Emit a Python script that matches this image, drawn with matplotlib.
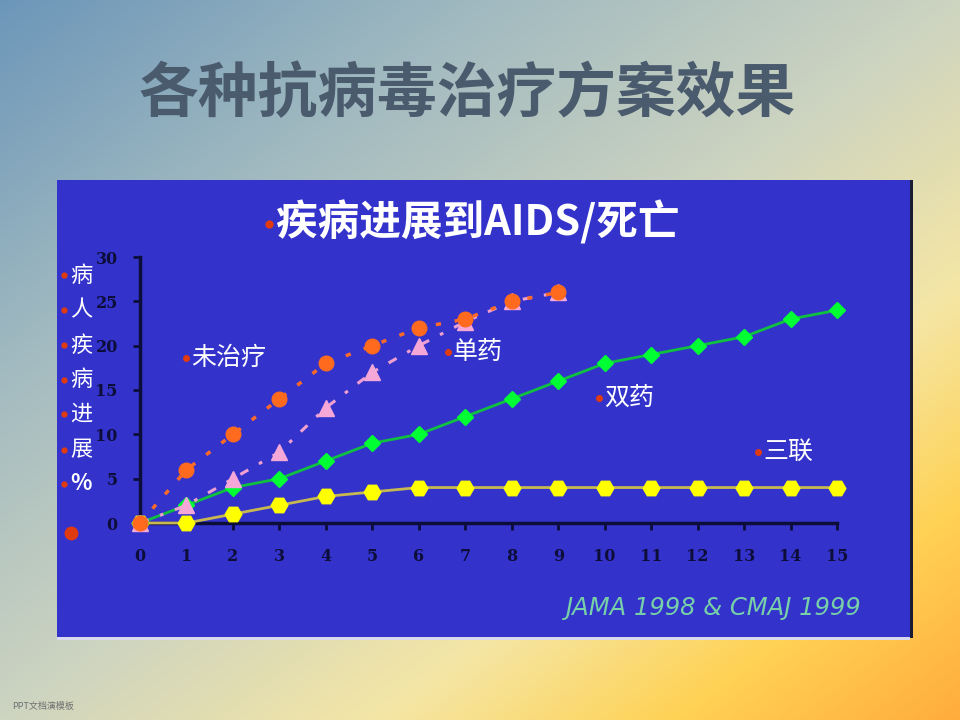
import numpy as np
import matplotlib
matplotlib.use("Agg")
import matplotlib.pyplot as plt
from matplotlib.patches import Rectangle

plt.rcParams['font.family'] = ['Noto Sans CJK SC', 'DejaVu Sans']

# ---- data ----
years = list(range(16))
untreated = [0, 6, 10, 14, 18, 20, 22, 23, 25, 26]
mono = [0, 2, 5, 8, 13, 17, 20, 22.7, 25, 26]
dual = [0, 2, 4, 5, 7, 9, 10, 12, 14, 16, 18, 19, 20, 21, 23, 24]
triple = [0, 0, 1, 2, 3, 3.5, 4, 4, 4, 4, 4, 4, 4, 4, 4, 4]
xticks = list(range(16))
yticks = [0, 5, 10, 15, 20, 25, 30]
ylabel_chars = ['病', '人', '疾', '病', '进', '展', '%']
series_labels = ['未治疗', '单药', '双药', '三联']

W, H = 960, 720
fig = plt.figure(figsize=(9.6, 7.2), dpi=100)

# ---- background gradient ----
bg = fig.add_axes([0, 0, 1, 1], zorder=-10)
gx, gy = np.meshgrid(np.linspace(0, 1, 480), np.linspace(0, 1, 360))
t = (gx + gy) / 2.0
stops = [0.0, 0.25, 0.5, 0.7, 0.85, 1.0]
cols = np.array([(108, 150, 185), (160, 185, 192), (205, 212, 192),
                 (245, 230, 165), (255, 210, 85), (255, 172, 60)]) / 255.0
img = np.dstack([np.interp(t, stops, cols[:, k]) for k in range(3)])
bg.imshow(img, aspect='auto', extent=[0, 1, 0, 1], origin='upper')
bg.set_xlim(0, 1); bg.set_ylim(0, 1)
bg.axis('off')

def fx(px):
    return px / W

def fy(py):
    return 1 - py / H

# ---- blue panel ----
panel_color = '#3333cc'
fig.patches.append(Rectangle((fx(910), fy(638)), 3 / W, (638 - 180) / H,
                             transform=fig.transFigure, facecolor='#1a1a33',
                             edgecolor='none', zorder=-5))
fig.patches.append(Rectangle((fx(57), fy(640)), (910 - 57) / W, 3 / H,
                             transform=fig.transFigure, facecolor='#d8d8f0',
                             edgecolor='none', zorder=-5))
fig.patches.append(Rectangle((fx(57), fy(637)), (910 - 57) / W, (637 - 180) / H,
                             transform=fig.transFigure, facecolor=panel_color,
                             edgecolor='none', zorder=-4))

# overlay axes for bullet dots
ov = fig.add_axes([0, 0, 1, 1], zorder=20)
ov.set_xlim(0, W); ov.set_ylim(H, 0)
ov.axis('off')
ov.patch.set_alpha(0)
bullet_red = '#e03a10'

def bullet(px, py, size=5):
    ov.plot([px], [py], 'o', ms=size, mfc=bullet_red, mec='none')

# ---- titles ----
fig.text(fx(467), fy(95), '各种抗病毒治疗方案效果', ha='center', va='center',
         fontsize=43, color='#4b5b6e', fontweight='bold')
bullet(269, 224, 6)
fig.text(fx(276), fy(222), '疾病进展到AIDS/死亡', ha='left', va='center',
         fontsize=30, color='white', fontweight='bold')

# ---- main axes ----
ax = fig.add_axes([fx(140), fy(523), (837 - 140) / W, (523 - 257) / H])
ax.patch.set_alpha(0)
ax.set_xlim(0, 15)
ax.set_ylim(0, 30)
for s in ['top', 'right']:
    ax.spines[s].set_visible(False)
for s in ['left', 'bottom']:
    ax.spines[s].set_color('#0d0d3a')
    ax.spines[s].set_linewidth(2.5)
ax.set_xticks(xticks)
ax.set_yticks(yticks)
ax.tick_params(axis='both', colors='#0d0d3a', length=5, width=2,
               labelsize=11.5)
ax.tick_params(axis='x', pad=13)
ax.tick_params(axis='y', pad=11)
for lab in ax.get_xticklabels() + ax.get_yticklabels():
    lab.set_fontfamily('DejaVu Serif')
    lab.set_fontweight('bold')
    lab.set_color('#0d0d3a')

ax.plot(years[:len(triple)], triple, color='#c8b850', lw=2, marker='H',
        ms=12, mfc='#ffff00', mec='#ffff00', clip_on=False, zorder=3)
ax.plot(years[:len(dual)], dual, color='#10c040', lw=2, marker='D',
        ms=8, mfc='#00ff33', mec='#00ff33', clip_on=False, zorder=4)
ax.plot(years[:len(mono)], mono, color='#f0a0d0', lw=2.2, ls=(0, (3, 4, 1.2, 4)),
        marker='^', ms=11, mfc='#f5a8d8', mec='#f5a8d8', clip_on=False, zorder=5)
ax.plot(years[:len(untreated)], untreated, color='#ff6a28', lw=2.5, ls=(0, (1.5, 4)),
        marker='o', ms=10.5, mfc='#ff6a1e', mec='#ff6a1e', clip_on=False, zorder=6)

# ---- series labels ----
label_pos = [(186, 358), (448, 352), (599, 398), (758, 452)]
for lab, (px, py) in zip(series_labels, label_pos):
    bullet(px, py, 5)
    fig.text(fx(px + 5), fy(py), lab, ha='left', va='center', fontsize=18,
             color='white')

# ---- vertical y label ----
ylab_y = [275, 310, 345, 380, 414, 450, 484]
for ch, py in zip(ylabel_chars, ylab_y):
    bullet(64, py, 4.5)
    fig.text(fx(81), fy(py), ch, ha='center', va='center', fontsize=16,
             color='white', fontweight='bold' if ch == '%' else 'normal')
bullet(71, 533, 10)

# ---- source ----
fig.text(fx(862), fy(608), 'JAMA 1998 & CMAJ 1999', ha='right', va='center',
         fontsize=17.5, color='#78d0a8', style='italic', family='DejaVu Sans')

# ---- footer ----
fig.text(fx(12), fy(706), 'PPT文档演模板', ha='left', va='center', fontsize=6.5,
         color='#707070')

fig.savefig('out.png', dpi=100)
